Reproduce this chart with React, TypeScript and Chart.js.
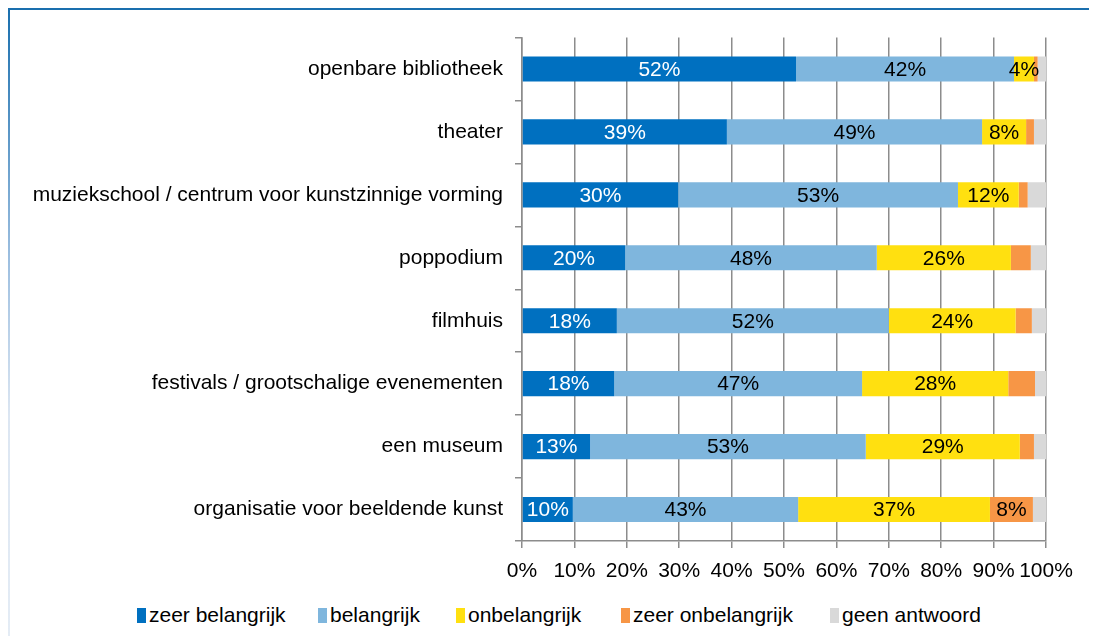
import React, { useEffect, useRef } from "react";
import { Chart, registerables } from "chart.js";

Chart.register(...registerables);

const categories = [
  "openbare bibliotheek",
  "theater",
  "muziekschool / centrum voor kunstzinnige vorming",
  "poppodium",
  "filmhuis",
  "festivals / grootschalige evenementen",
  "een museum",
  "organisatie voor beeldende kunst",
];

const seriesNames = ["zeer belangrijk", "belangrijk", "onbelangrijk", "zeer onbelangrijk", "geen antwoord"];
const zeerBelangrijk = [52.3, 39.1, 29.8, 19.7, 18.1, 17.6, 13.0, 9.7];
const belangrijk = [41.6, 48.7, 53.4, 48.0, 51.9, 47.3, 52.6, 43.0];
const onbelangrijk = [3.8, 8.4, 11.6, 25.6, 24.2, 27.9, 29.4, 36.6];
const zeerOnbelangrijk = [0.7, 1.5, 1.7, 3.8, 3.1, 5.1, 2.7, 8.2];
const geenAntwoord = [1.6, 2.3, 3.5, 2.9, 2.7, 2.1, 2.3, 2.5];
const seriesColors = ["#0070C0", "#7FB6DD", "#FFE010", "#F79646", "#D9D9D9"];
const labelColors = ["#FFFFFF", "#000000", "#000000", "#000000", "#000000"];
const labelMinValue = [0, 0, 0, 8, 101];

const FONT = "'Liberation Sans', Arial, sans-serif";

const legendLeft = [137, 318, 456, 621, 830];

const labelPlugin = {
  id: "segLabels",
  afterDatasetsDraw(chart: any) {
    const ctx = chart.ctx;
    ctx.save();
    ctx.font = `21px ${FONT}`;
    ctx.textAlign = "center";
    ctx.textBaseline = "middle";
    chart.data.datasets.forEach((ds: any, di: number) => {
      const meta = chart.getDatasetMeta(di);
      meta.data.forEach((el: any, i: number) => {
        const v = ds.data[i];
        if (v < labelMinValue[di]) return;
        const cx = (el.x + el.base) / 2;
        ctx.fillStyle = labelColors[di];
        ctx.fillText(`${Math.round(v)}%`, cx, el.y + 1);
      });
    });
    ctx.restore();
  },
};

export default function App() {
  const ref = useRef<HTMLCanvasElement>(null);
  useEffect(() => {
    if (!ref.current) return;
    const values = [zeerBelangrijk, belangrijk, onbelangrijk, zeerOnbelangrijk, geenAntwoord];
    const chart = new Chart(ref.current, {
      type: "bar",
      data: {
        labels: categories,
        datasets: values.map((d, i) => ({
          label: seriesNames[i],
          data: d,
          backgroundColor: seriesColors[i],
          borderWidth: 0,
          barPercentage: 0.4,
          categoryPercentage: 1,
        })),
      },
      options: {
        indexAxis: "y",
        responsive: false,
        animation: false,
        maintainAspectRatio: false,
        layout: { padding: { top: 29.5, right: 51, left: 0, bottom: 0 } },
        plugins: { legend: { display: false }, tooltip: { enabled: false } },
        scales: {
          x: {
            stacked: true,
            min: 0,
            max: 100,
            ticks: {
              stepSize: 10,
              autoSkip: false,
              color: "#000",
              font: { family: FONT, size: 21 },
              padding: 11,
              callback: (v: any) => `${v}%`,
              maxRotation: 0,
              minRotation: 0,
            },
            grid: { color: "#8C8C8C", lineWidth: 1.5, tickLength: 7, drawTicks: true },
            border: { color: "#8C8C8C", width: 1.5 },
            afterFit: (s: any) => {
              s.height = 47;
            },
          },
          y: {
            stacked: true,
            ticks: { color: "#000", font: { family: FONT, size: 21 }, padding: 12 },
            grid: { drawOnChartArea: false, color: "#8C8C8C", lineWidth: 1.5, tickLength: 7, offset: true },
            border: { color: "#8C8C8C", width: 1.5 },
            afterFit: (s: any) => {
              s.width = 514;
            },
          },
        },
      },
      plugins: [labelPlugin],
    });
    return () => chart.destroy();
  }, []);

  return (
    <div style={{ position: "relative", width: 1089, height: 628, fontFamily: FONT }}>
      <div style={{ position: "absolute", left: 0, top: 0, width: 1089, height: 2, background: "#1A6FAE" }} />
      <div
        style={{
          position: "absolute",
          left: 0,
          top: 0,
          width: 2,
          height: 628,
          background: "linear-gradient(#1A6FAE 0%, #9DBFE0 40%, #DCE6F2 65%, #E4ECF5 100%)",
        }}
      />
      <canvas ref={ref} width={1089} height={580} style={{ position: "absolute", left: 0, top: 0 }} />
      {seriesNames.map((n, i) => (
        <div
          key={n}
          style={{
            position: "absolute",
            left: legendLeft[i] - 8,
            top: 595,
            display: "flex",
            alignItems: "center",
            fontSize: 21,
            color: "#000",
            whiteSpace: "nowrap",
          }}
        >
          <span style={{ display: "inline-block", width: 9, height: 15, background: seriesColors[i], marginRight: 3 }} />
          {n}
        </div>
      ))}
    </div>
  );
}
